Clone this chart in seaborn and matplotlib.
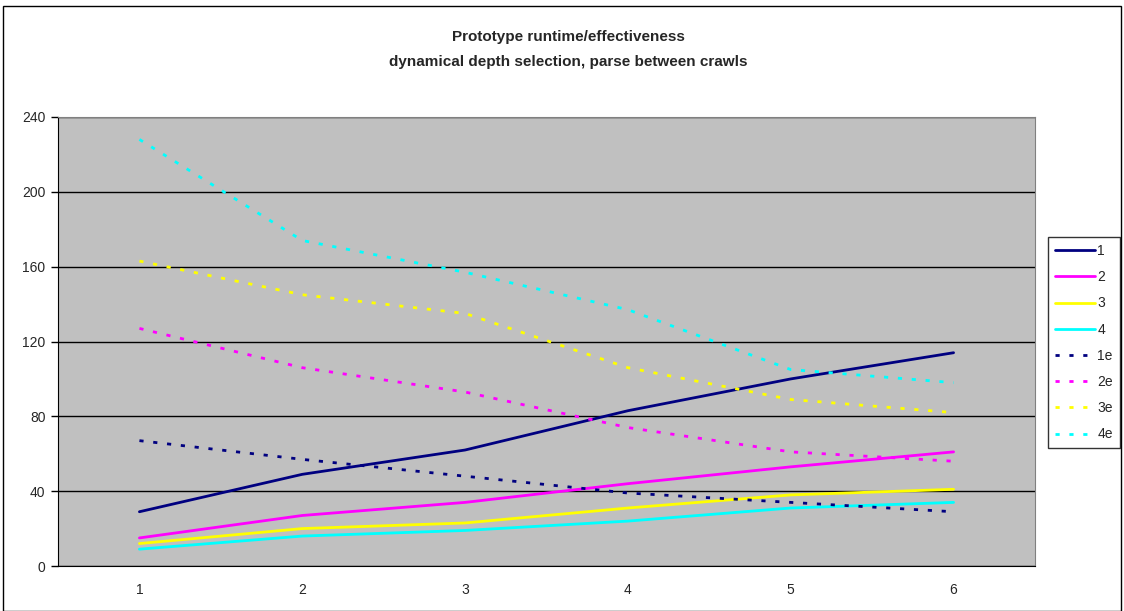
import pandas as pd
import matplotlib.pyplot as plt
import seaborn as sns
from matplotlib.patches import Rectangle

# datos
steps = [1, 2, 3, 4, 5, 6]
labels = ['1', '2', '3', '4', '1e', '2e', '3e', '4e']
s1 = [29, 49, 62, 83, 100, 114]
s2 = [15, 27, 34, 44, 53, 61]
s3 = [12, 20, 23, 31, 38, 41]
s4 = [9, 16, 19, 24, 31, 34]
s1e = [67, 57, 48, 39, 34, 29]
s2e = [127, 106, 93, 74, 61, 56]
s3e = [163, 145, 135, 106, 89, 82]
s4e = [228, 174, 157, 137, 105, 98]
colors = ['#000080', '#FF00FF', '#FFFF00', '#00FFFF'] * 2

series = [s1, s2, s3, s4, s1e, s2e, s3e, s4e]
df = pd.DataFrame([(lab, x, v) for lab, vals in zip(labels, series) for x, v in zip(steps, vals)],
                  columns=['serie', 'paso', 'valor'])

sns.set_style('white')
plt.rcParams['font.family'] = ['Liberation Sans', 'DejaVu Sans']

fig = plt.figure(figsize=(11.24, 6.11), dpi=100)
ax = fig.add_axes([58 / 1124, 1 - 566 / 611, (1035 - 58) / 1124, (566 - 117) / 611])
ax.set_facecolor('#C0C0C0')

dashes = {lab: ('' if 'e' not in lab else (1.5, 3.5)) for lab in labels}
sns.lineplot(data=df, x='paso', y='valor', hue='serie', style='serie',
             palette=dict(zip(labels, colors)), dashes=dashes, linewidth=2,
             hue_order=labels, style_order=labels, ax=ax, legend=False, zorder=3)

ax.set_xlim(0.5, 6.5)
ax.set_ylim(0, 240)
ax.set_yticks(range(0, 241, 40))
ax.yaxis.grid(True, color='black', linewidth=1)
ax.set_axisbelow(True)
ax.set_xticks(steps)
ax.set_xticks([0.5 + i for i in range(7)], minor=True)
ax.tick_params(axis='x', which='major', length=0, pad=12, labelsize=10)
ax.tick_params(axis='x', which='minor', length=5, direction='out', width=1, color='black')
ax.tick_params(axis='y', length=5, direction='out', width=1, color='black', labelsize=10, left=True, pad=4)
ax.set_xlabel('')
ax.set_ylabel('')
for side in ['top', 'right']:
    ax.spines[side].set_color('#808080')
for side in ['left', 'bottom']:
    ax.spines[side].set_color('black')

fig.text(568 / 1124, 1 - 37 / 611, 'Prototype runtime/effectiveness', ha='center', va='center',
         fontsize=11, fontweight='bold')
fig.text(568 / 1124, 1 - 62 / 611, 'dynamical depth selection, parse between crawls', ha='center',
         va='center', fontsize=11, fontweight='bold')

handles = ax.get_lines()[:8]
leg = fig.legend(handles, labels, loc='upper left', bbox_to_anchor=(1048 / 1124, 1 - 237 / 611),
                 frameon=True, fancybox=False, edgecolor='black', fontsize=10, handlelength=2.9,
                 handletextpad=0.15, borderpad=0.5, labelspacing=0.88, borderaxespad=0)
leg.get_frame().set_linewidth(1)

fig.patches.append(Rectangle((3 / 1124, 0), 1118 / 1124, 1 - 6 / 611, transform=fig.transFigure,
                             fill=False, edgecolor='black', linewidth=1))

fig.savefig('out.png', dpi=100)
